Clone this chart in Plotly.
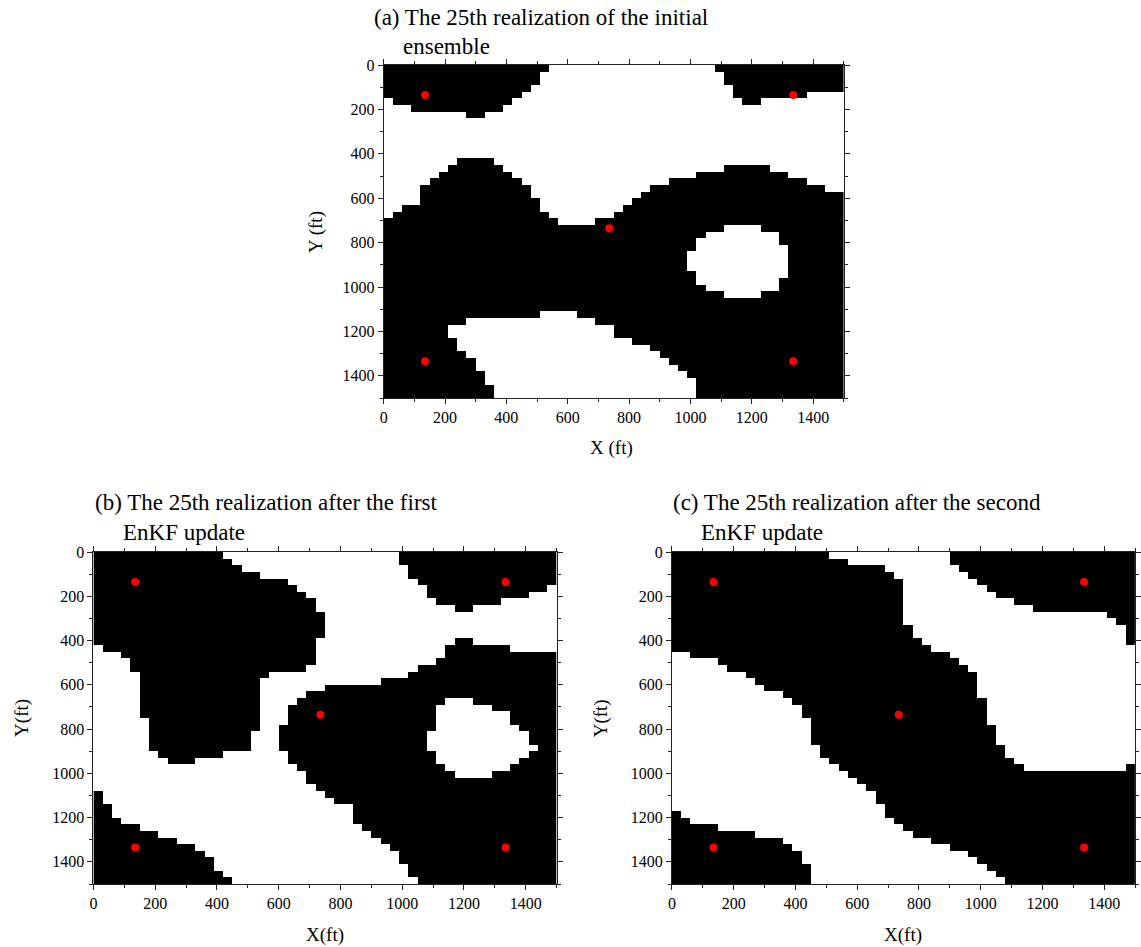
import plotly.graph_objects as go

W, H = 1141, 947
N = 50
CELL = 30.0
FONT = "Liberation Serif, Times New Roman, serif"

# Well locations (ft)
wells_x = [135, 1335, 735, 135, 1335]
wells_y = [135, 135, 735, 1335, 1335]

# ---------------- Panel (a): initial ensemble, 25th realization ----------------
# black runs: [row, first_col, last_col]
a_black_top_left = [[0, 0, 17], [1, 0, 16], [2, 0, 16], [3, 0, 15], [4, 0, 14],
                    [5, 1, 13], [6, 3, 12], [7, 9, 10]]
a_black_top_right = [[0, 36, 49], [1, 37, 49], [2, 37, 49], [3, 38, 49],
                     [4, 38, 45], [5, 39, 40]]
# first black row of the central body for each column
a_body_top_row = [23, 22, 21, 21, 18, 17, 16, 15, 14, 14, 14, 14, 15, 16, 17, 18, 20, 22, 23, 24,
                  24, 24, 24, 23, 23, 22, 21, 20, 19, 18, 18, 17, 17, 17, 16, 16, 16, 15, 15, 15,
                  15, 15, 16, 16, 17, 17, 18, 18, 19, 19]
a_white_lower = [[37, 17, 20], [38, 9, 22], [39, 7, 24], [40, 7, 24], [41, 8, 26], [42, 8, 28],
                 [43, 9, 29], [44, 10, 30], [45, 10, 31], [46, 11, 32], [47, 11, 33],
                 [48, 12, 33], [49, 12, 33]]
a_white_hole = [[24, 37, 40], [25, 35, 42], [26, 34, 42], [27, 34, 43], [28, 33, 43],
                [29, 33, 43], [30, 33, 43], [31, 34, 43], [32, 34, 42], [33, 35, 42],
                [34, 37, 40]]

# ---------------- Panel (b): after first EnKF update ----------------
b_black_top_left = [[0, 0, 13], [1, 0, 14], [2, 0, 15], [3, 0, 17], [4, 0, 20], [5, 0, 21],
                    [6, 0, 22], [7, 0, 23], [8, 0, 23], [9, 0, 24], [10, 0, 24], [11, 0, 24],
                    [12, 0, 24], [13, 0, 23], [14, 1, 23], [15, 3, 23], [16, 4, 23],
                    [17, 4, 22], [18, 5, 18], [19, 5, 17], [20, 5, 17], [21, 5, 17],
                    [22, 5, 17], [23, 5, 17], [24, 5, 17], [25, 6, 17], [26, 6, 17],
                    [27, 6, 16], [28, 6, 16], [29, 6, 16], [30, 7, 13], [31, 8, 10]]
b_black_top_right = [[0, 33, 49], [1, 33, 49], [2, 34, 49], [3, 34, 49], [4, 35, 49],
                     [5, 36, 48], [6, 36, 46], [7, 37, 43], [8, 39, 40]]
b_black_right = [[13, 39, 40], [14, 38, 44], [15, 38, 49], [16, 37, 49], [17, 35, 49],
                 [18, 34, 49], [19, 31, 49], [20, 25, 49], [21, 23, 49], [22, 22, 49],
                 [23, 21, 49], [24, 21, 49], [25, 21, 49], [26, 20, 49], [27, 20, 49],
                 [28, 20, 49], [29, 20, 49], [30, 21, 49], [31, 21, 49], [32, 22, 49],
                 [33, 23, 49], [34, 23, 49], [35, 24, 49], [36, 25, 49], [37, 26, 49],
                 [38, 28, 49], [39, 28, 49], [40, 28, 49], [41, 29, 49], [42, 30, 49],
                 [43, 31, 49], [44, 32, 49], [45, 33, 49], [46, 33, 49], [47, 34, 49],
                 [48, 34, 49], [49, 35, 49]]
b_white_hole = [[22, 38, 40], [23, 37, 42], [24, 37, 44], [25, 37, 44], [26, 37, 45],
                [27, 36, 46], [28, 36, 46], [29, 36, 47], [30, 37, 46], [31, 37, 45],
                [32, 38, 44], [33, 39, 42]]
b_black_bottom_left = [[36, 0, 0], [37, 0, 0], [38, 0, 1], [39, 0, 1], [40, 0, 2], [41, 0, 4],
                       [42, 0, 6], [43, 0, 8], [44, 0, 10], [45, 0, 11], [46, 0, 12],
                       [47, 0, 12], [48, 0, 13], [49, 0, 14]]

# ---------------- Panel (c): after second EnKF update ----------------
# diagonal black band: first and last black column per row
c_band_first_col = [0] * 15 + [2, 5, 6, 8, 9, 10, 12, 13, 14, 14, 15, 15, 15, 15, 16, 16, 17, 18,
                               19, 20, 21, 22, 22, 23, 23, 24, 25, 26, 28, 30, 32, 33, 34, 35, 36]
c_band_last_col = [16, 18, 22, 23, 24, 24, 24, 24, 24, 24, 24, 25, 25, 26, 27, 29, 30, 31, 32, 32,
                   32, 32, 33, 33, 33, 33, 34, 34, 34, 35, 35, 36, 37] + [49] * 17
c_black_top_right = [[0, 30, 49], [1, 30, 49], [2, 31, 49], [3, 32, 49], [4, 33, 49],
                     [5, 34, 49], [6, 35, 49], [7, 37, 49], [8, 39, 49], [9, 47, 49],
                     [10, 48, 49], [11, 49, 49], [12, 49, 49], [13, 49, 49], [32, 49, 49]]
c_black_bottom_left = [[39, 0, 0], [40, 0, 1], [41, 0, 4], [42, 0, 8], [43, 0, 11],
                       [44, 0, 12], [45, 0, 13], [46, 0, 13], [47, 0, 14], [48, 0, 14],
                       [49, 0, 14]]

centers = [CELL / 2 + CELL * i for i in range(N)]


def blank():
    return [[0] * N for _ in range(N)]


def paint(z, runs, v):
    for r, c0, c1 in runs:
        for c in range(c0, c1 + 1):
            z[r][c] = v


za = blank()
paint(za, a_black_top_left, 1)
paint(za, a_black_top_right, 1)
for c, t in enumerate(a_body_top_row):
    for r in range(t, N):
        za[r][c] = 1
paint(za, a_white_lower, 0)
paint(za, a_white_hole, 0)

zb = blank()
paint(zb, b_black_top_left, 1)
paint(zb, b_black_top_right, 1)
paint(zb, b_black_right, 1)
paint(zb, b_white_hole, 0)
paint(zb, b_black_bottom_left, 1)

zc = blank()
for r in range(N):
    for c in range(c_band_first_col[r], c_band_last_col[r] + 1):
        zc[r][c] = 1
paint(zc, c_black_top_right, 1)
paint(zc, c_black_bottom_left, 1)

fig = go.Figure()
for i, z in enumerate([za, zb, zc]):
    suf = "" if i == 0 else str(i + 1)
    fig.add_trace(go.Heatmap(z=z, x=centers, y=centers, zmin=0, zmax=1,
                             colorscale=[[0, "#ffffff"], [1, "#000000"]],
                             showscale=False, hoverinfo="skip",
                             xaxis="x" + suf, yaxis="y" + suf))
    fig.add_trace(go.Scatter(x=wells_x, y=wells_y, mode="markers",
                             marker=dict(color="#ff0000", size=8),
                             showlegend=False, hoverinfo="skip",
                             xaxis="x" + suf, yaxis="y" + suf))


def px_x(x):
    return x / W


def px_y(y):
    # empirical vertical mapping of the rendered page
    return 1 - (y - 8) / 939.0


def axis(dom, is_y, anchor):
    d = dict(domain=dom, range=[1500, 0] if is_y else [0, 1500], anchor=anchor,
             tickmode="linear", tick0=0, dtick=200, ticks="outside", ticklen=5,
             tickwidth=1, tickcolor="#222", showline=True, linecolor="#222", linewidth=1,
             mirror="allticks", showgrid=False, zeroline=False,
             tickfont=dict(family=FONT, size=16, color="black"),
             minor=dict(dtick=100, tick0=0, ticks="outside", ticklen=3, tickcolor="#222",
                        showgrid=False))
    return d


panels = [
    ((382, 845), (65, 398)),
    ((90, 556), (552, 884)),
    ((672, 1138), (552, 884)),
]
layout = dict(width=W, height=H, margin=dict(l=0, r=0, t=0, b=0),
              paper_bgcolor="white", plot_bgcolor="white", showlegend=False)
for i, ((x0, x1), (y0, y1)) in enumerate(panels):
    suf = "" if i == 0 else str(i + 1)
    layout["xaxis" + suf] = axis([px_x(x0), px_x(x1)], False, "y" + suf)
    layout["yaxis" + suf] = axis([px_y(y1), px_y(y0)], True, "x" + suf)
fig.update_layout(**layout)

texts = [
    ("(a) The 25th realization of the initial", 370, 18),
    ("ensemble", 399, 47),
    ("(b) The 25th realization after the first", 90, 503),
    ("EnKF update", 118, 532),
    ("(c) The 25th realization after the second", 671, 503),
    ("EnKF update", 699, 532),
]
for t, x, y in texts:
    fig.add_annotation(text=t, x=px_x(x), y=px_y(y), xref="paper", yref="paper",
                       xanchor="left", yanchor="middle", showarrow=False,
                       font=dict(family=FONT, size=23, color="black"))

labels = [
    ("X (ft)", 611, 448, 0),
    ("Y (ft)", 314, 232, -90),
    ("X(ft)", 323, 935, 0),
    ("Y(ft)", 18, 718, -90),
    ("X(ft)", 905, 935, 0),
    ("Y(ft)", 601, 718, -90),
]
for t, x, y, ang in labels:
    fig.add_annotation(text=t, x=px_x(x), y=px_y(y), xref="paper", yref="paper",
                       xanchor="center", yanchor="middle", showarrow=False, textangle=ang,
                       font=dict(family=FONT, size=19, color="black"))

fig.write_html("out.html")
